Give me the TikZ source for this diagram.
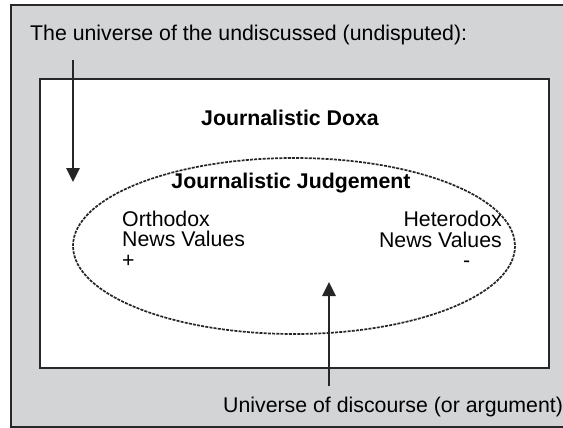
\documentclass[tikz,border=0pt]{standalone}
\usepackage{fontspec}
\setmainfont{Liberation Sans}
\usetikzlibrary{positioning,arrows.meta}
\definecolor{doxagrey}{RGB}{211,212,214}
\definecolor{frameline}{RGB}{40,40,40}

\begin{document}
\begin{tikzpicture}[x=1pt,y=-1pt,font=\fontsize{21.3}{20.5}\selectfont,
                txt/.style={inner sep=0pt,align=left},
                bold/.style={inner sep=0pt,font=\fontsize{21.3}{20.5}\selectfont\bfseries},
                arr/.style={-{Triangle[length=14pt,width=13pt]},line width=2.6pt,black!85}]
                \useasboundingbox (0,0) rectangle (563,428);
                \draw[fill=doxagrey,draw=frameline,line width=2pt] (11,5) rectangle (575,427);
                \draw[fill=white,draw=frameline,line width=2pt] (40,79) rectangle (549,368);
                \draw[dash pattern=on 3pt off 1.2pt,line width=1.7pt,black!85]
                     (294,246) ellipse [x radius=221,y radius=88];
                \node[txt,anchor=base west] (undisc) at (30,41)
                     {The universe of the undiscussed (undisputed):};
                \node[bold,anchor=base] (doxa)  at (290,125) {Journalistic Doxa};
                \node[bold,anchor=base] (judge) at (291,189) {Journalistic Judgement};
                % multi-line nodes: base is the last line
                \node[txt,anchor=base west] (ortho) at (122,267) {Orthodox\\News Values\\+};
                \node[txt,anchor=base east,align=right] (hetero) at (502,247)
                     {Heterodox\hspace{7pt}\\News Values};
                \node[txt,anchor=base west] (minus) at (463,267) {-};
                \node[txt,anchor=base west] (discourse) at (223,412)
                     {Universe of discourse (or argument)};
                \coordinate (dtop) at (73,60);
                \coordinate (dtip) at (73,182);
                \coordinate (ulow) at (329,386);
                \coordinate (utip) at (329,282);
                \draw[arr] (dtop)--(dtip);
                \draw[arr] (ulow)--(utip);
            \end{tikzpicture}
\end{document}
